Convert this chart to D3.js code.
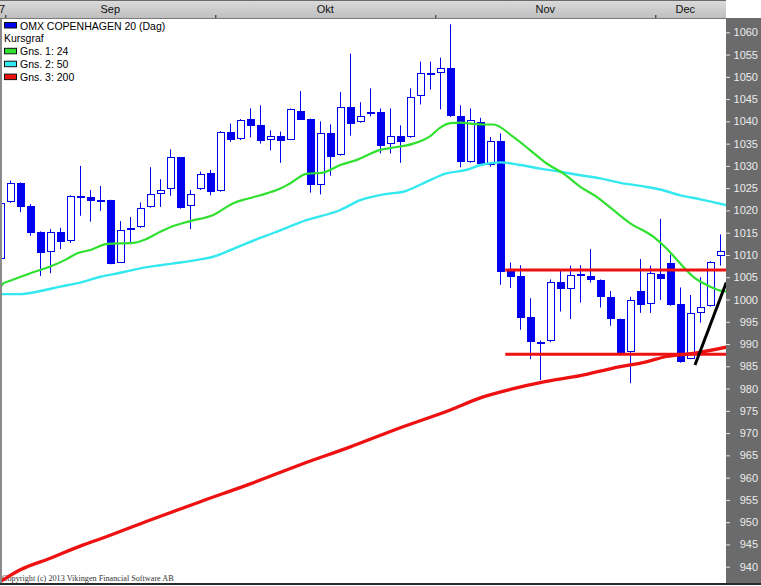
<!DOCTYPE html>
<html><head><meta charset="utf-8">
<script src="https://cdn.jsdelivr.net/npm/d3@7"></script>
<style>
body{margin:0;background:#fff;}
svg{display:block;font-family:"Liberation Sans",Arial,sans-serif;}
</style>
</head><body>
<svg id="chart" width="761" height="586"></svg>
<script>
// ---- data (trading-day index 0..72) ----
const opens  = [1009.0,1021.8,1026.1,1021.0,1015.1,1010.7,1015.1,1013.2,1023.2,1023.0,1022.4,1022.3,1008.3,1016.1,1016.2,1020.7,1023.8,1024.9,1031.9,1020.9,1024.9,1028.3,1024.3,1037.7,1036.1,1040.5,1039.1,1035.9,1036.8,1035.9,1042.4,1040.5,1025.8,1037.5,1032.4,1043.3,1039.8,1041.6,1042.2,1034.9,1036.8,1036.4,1045.6,1050.9,1050.8,1051.9,1041.3,1030.9,1039.8,1030.2,1035.7,1006.6,1005.3,996.1,990.4,990.7,1003.9,1002.4,1005.7,1005.3,1004.4,1000.6,995.6,988.2,1001.9,998.9,1005.8,1008.3,998.9,986.7,996.9,998.5,1009.8];
const highs  = [1023.0,1026.7,1026.3,1021.4,1015.3,1015.8,1016.1,1023.4,1030.0,1024.6,1025.5,1022.4,1017.6,1018.5,1021.8,1029.7,1027.0,1033.7,1032.0,1024.6,1028.7,1029.1,1037.8,1039.5,1040.5,1042.9,1043.6,1038.0,1037.7,1042.9,1046.8,1040.6,1040.0,1039.3,1046.6,1055.2,1044.3,1047.4,1042.9,1042.9,1039.1,1047.4,1053.4,1053.4,1054.3,1061.8,1043.6,1042.9,1040.8,1036.5,1037.3,1008.3,1007.7,1000.3,990.8,1004.5,1006.8,1007.6,1007.7,1011.3,1004.5,1001.9,995.7,1000.6,1009.1,1007.6,1018.1,1010.1,1002.7,1001.0,1005.0,1008.6,1014.6];
const lows   = [1007.0,1021.7,1019.6,1014.3,1005.3,1005.9,1011.3,1012.7,1018.8,1017.5,1019.9,1007.9,1008.2,1012.9,1016.1,1020.6,1020.8,1023.3,1020.4,1015.8,1024.6,1023.4,1024.2,1035.4,1035.8,1036.4,1035.0,1033.5,1030.7,1035.8,1040.3,1024.0,1023.6,1027.8,1032.3,1036.8,1039.7,1041.1,1032.8,1032.8,1030.7,1036.3,1043.8,1047.1,1042.7,1041.0,1029.7,1030.7,1030.0,1029.8,1003.3,1002.6,993.2,986.6,981.9,990.4,997.3,995.6,999.3,1003.8,998.2,994.1,987.8,981.2,997.0,997.0,999.9,998.6,985.8,986.6,994.8,998.4,1007.6];
const closes = [1021.6,1026.1,1020.8,1015.0,1010.5,1015.1,1013.0,1023.2,1022.8,1022.2,1022.2,1008.0,1015.5,1015.8,1020.5,1023.8,1024.7,1031.9,1020.5,1023.8,1028.1,1024.1,1037.7,1035.9,1040.3,1039.0,1035.6,1036.8,1035.6,1042.7,1040.4,1025.8,1037.5,1032.1,1043.3,1039.3,1041.3,1042.2,1034.5,1036.8,1035.4,1045.4,1050.8,1050.5,1051.9,1041.2,1030.8,1040.4,1030.4,1035.7,1006.2,1005.1,995.9,990.4,989.9,1003.9,1002.3,1005.4,1005.2,1004.4,1000.5,995.6,987.9,999.9,998.7,1005.9,1004.5,998.7,986.0,996.9,998.4,1008.5,1011.0];

// moving averages: [dayIndex, value]
const ma24 = [[-0.1,1002.1],[0.3,1003.6],[1,1004.2],[3,1005.9],[5,1007.4],[6.5,1008.9],[7.7,1010.4],[9,1011.1],[10.7,1012.5],[13.3,1012.7],[14.3,1013.3],[16,1015.2],[17.3,1016.5],[19,1017.6],[21.3,1019.0],[23.3,1021.6],[24.5,1022.5],[26,1023.4],[28,1024.9],[29,1026.1],[30.6,1028.2],[32.3,1028.5],[34,1030.2],[35.6,1031.3],[38,1033.6],[39,1034.0],[41.3,1035.0],[43,1036.7],[44,1038.6],[45,1039.6],[46,1039.7],[47,1039.5],[48.5,1039.3],[49.3,1039.3],[51.3,1036.5],[53,1033.5],[54.6,1030.6],[56.3,1028.3],[58,1025.3],[59.6,1023.1],[61.3,1020.1],[63,1017.1],[65.3,1014.1],[66.6,1011.5],[68,1008.1],[69.3,1005.1],[70.6,1003.3],[72,1002.0],[72.6,1001.8]];
const ma50 = [[-0.1,1001.2],[2,1001.2],[4,1001.9],[6,1002.9],[8,1003.8],[10,1005.1],[12,1006.0],[14,1007.0],[16,1007.7],[18,1008.3],[20,1009.0],[21.3,1009.6],[22.6,1010.7],[24.5,1012.5],[27.5,1015.1],[30.6,1017.8],[34,1020.1],[36,1022.3],[38.6,1023.7],[40.3,1024.2],[42.6,1026.4],[44.6,1028.3],[46.6,1029.1],[48,1030.2],[50,1030.8],[52,1030.2],[54,1029.4],[56,1028.7],[58,1027.9],[60,1027.2],[62,1026.2],[64,1025.5],[66,1024.7],[68,1023.4],[70,1022.5],[72.6,1021.2]];
const ma200 = [[-0.1,936.5],[2,939.3],[5,941.9],[8.3,944.9],[9.7,946.0],[15,950.5],[20,954.6],[25,958.6],[30,962.9],[35,966.9],[40,971.2],[45,975.2],[48,977.9],[51,979.8],[54.6,981.6],[58,982.9],[61.3,984.6],[64.6,986.0],[66.6,987.2],[69.3,987.9],[72.6,989.3]];

// drawn support / resistance and trend line
const levelStart = 50.5, levelEnd = 72.6;
const levels = [1006.6, 987.7];
const trendLine = [[69.47,985.3],[72.6,1003.8]];

// axis labels
const yTicks = d3.range(940, 1061, 5);
const months = ["Sep","Okt","Nov","Dec"];
const monthStart = [1, 22, 44, 66];   // first day index of each month
const monthEnd   = [21, 43, 65, 71];

const legendNames = ["OMX COPENHAGEN 20 (Dag)","Kursgraf","Gns. 1: 24","Gns. 2: 50","Gns. 3: 200"];
const legendColors = ["#0000ee", null, "#2fe02f", "#33e8ee", "#ee1111"];

// ---- layout ----
const svg = d3.select("#chart");
const W = 761, H = 586;
const plotL = 2, plotR = 726, plotT = 19, plotB = 583;
const x = d3.scaleLinear().domain([0, 72]).range([0.3, 720.3]);
const y = d3.scaleLinear().domain([940, 1060]).range([566.7, 32.3]);
const BLUE = "#0000ee";

svg.append("rect").attr("width", W).attr("height", H).attr("fill", "#fff");

svg.append("defs").append("clipPath").attr("id", "plotclip")
  .append("rect").attr("x", plotL).attr("y", plotT).attr("width", plotR - plotL).attr("height", plotB - plotT);

// copyright (below red line)
svg.append("text").attr("x", 2).attr("y", 580.5)
  .attr("font-family", "'Liberation Serif','Times New Roman',serif").attr("font-size", 8.2)
  .attr("fill", "#333").text("Copyright (c) 2013 Vikingen Financial Software AB");

const g = svg.append("g").attr("clip-path", "url(#plotclip)");

// candles
const idx = d3.range(opens.length);
const cg = g.append("g");
idx.forEach(i => {
  const xc = Math.round(x(i));
  const o = opens[i], c = closes[i];
  const up = c >= o;
  cg.append("line").attr("x1", xc + 0.5).attr("x2", xc + 0.5)
    .attr("y1", y(highs[i])).attr("y2", y(lows[i]))
    .attr("stroke", BLUE).attr("stroke-width", 1);
  const top = Math.round(y(Math.max(o, c))), bot = Math.round(y(Math.min(o, c)));
  const h = Math.max(bot - top, 1);
  if (up) {
    cg.append("rect").attr("x", xc - 3 + 0.5).attr("y", top + 0.5)
      .attr("width", 7).attr("height", Math.max(h - 1, 1))
      .attr("fill", "#fff").attr("stroke", BLUE).attr("stroke-width", 1);
  } else {
    cg.append("rect").attr("x", xc - 3).attr("y", top)
      .attr("width", 8).attr("height", Math.max(h, 2))
      .attr("fill", BLUE);
  }
});

// moving averages
const line = d3.line().x(d => x(d[0])).y(d => y(d[1])).curve(d3.curveMonotoneX);
g.append("path").datum(ma50).attr("d", line).attr("fill", "none").attr("stroke", "#33e8ee").attr("stroke-width", 2.4);
g.append("path").datum(ma24).attr("d", line).attr("fill", "none").attr("stroke", "#2fe02f").attr("stroke-width", 2.2);
g.append("path").datum(ma200).attr("d", line).attr("fill", "none").attr("stroke", "#ee1111").attr("stroke-width", 3.3);

// support / resistance lines
levels.forEach(v => {
  g.append("line").attr("x1", x(levelStart)).attr("x2", x(levelEnd))
    .attr("y1", y(v)).attr("y2", y(v)).attr("stroke", "#ee1111").attr("stroke-width", 3);
});
// trend line
g.append("path").datum(trendLine).attr("d", d3.line().x(d => x(d[0])).y(d => y(d[1])))
  .attr("stroke", "#000").attr("stroke-width", 3).attr("fill", "none");

// left border
svg.append("rect").attr("x", 0).attr("y", 18).attr("width", 2).attr("height", plotB - 18).attr("fill", "#8a8a8a");

// top month bar
const grad = svg.append("defs").append("linearGradient").attr("id", "topgrad")
  .attr("x1", 0).attr("y1", 0).attr("x2", 0).attr("y2", 1);
grad.append("stop").attr("offset", "0%").attr("stop-color", "#dcdcdc");
grad.append("stop").attr("offset", "100%").attr("stop-color", "#bdbdbd");
svg.append("rect").attr("x", 0).attr("y", 0).attr("width", plotR).attr("height", 19).attr("fill", "url(#topgrad)");
svg.append("rect").attr("x", 0).attr("y", 0).attr("width", plotR).attr("height", 1).attr("fill", "#6a6a6a");
svg.append("rect").attr("x", 0).attr("y", 18).attr("width", plotR).attr("height", 1).attr("fill", "#7a7a7a");

const topAxis = d3.axisTop(x).tickValues(monthStart.map(s => s - 0.5)).tickSize(3).tickFormat("");
const ta = svg.append("g").attr("transform", "translate(0,18)").call(topAxis);
ta.select(".domain").remove();
ta.selectAll(".tick line").attr("stroke", "#222");
months.forEach((m, k) => {
  svg.append("text").attr("x", (x(monthStart[k] - 0.5) + x(monthEnd[k] + 0.5)) / 2).attr("y", 12.5)
    .attr("text-anchor", "middle").attr("font-size", 11).attr("fill", "#111").text(m);
});
svg.append("text").attr("x", 5).attr("y", 12.5).attr("text-anchor", "end").attr("font-size", 11).attr("fill", "#111").text("7");

// right value axis panel
svg.append("rect").attr("x", plotR).attr("y", 18).attr("width", W - plotR).attr("height", plotB - 18).attr("fill", "#6b6b6b");
const rightAxis = d3.axisRight(y).tickValues(yTicks).tickSize(4).tickPadding(4).tickFormat(d3.format("d"));
const ra = svg.append("g").attr("transform", `translate(${plotR},0)`).call(rightAxis);
ra.select(".domain").remove();
ra.selectAll(".tick line").attr("stroke", "#e6e6e6");
ra.selectAll(".tick text").attr("x", 32).attr("text-anchor", "end")
  .attr("fill", "#ececec").attr("font-size", 11)
  .attr("font-family", "'Liberation Sans',Arial,sans-serif");

// bottom border
svg.append("rect").attr("x", 0).attr("y", 583).attr("width", W).attr("height", 2).attr("fill", "#2a2a2a");

// legend
const lg = svg.append("g");
legendNames.forEach((name, k) => {
  const by = 29.5 + k * 12.9;
  if (legendColors[k]) {
    lg.append("rect").attr("x", 4.5).attr("y", by - 7).attr("width", 12).attr("height", 5.5)
      .attr("fill", legendColors[k]).attr("stroke", "#111").attr("stroke-width", 1);
  }
  lg.append("text").attr("x", legendColors[k] ? 20 : 4).attr("y", by)
    .attr("font-size", 10.5).attr("fill", "#000").text(name);
});
</script>
</body></html>
